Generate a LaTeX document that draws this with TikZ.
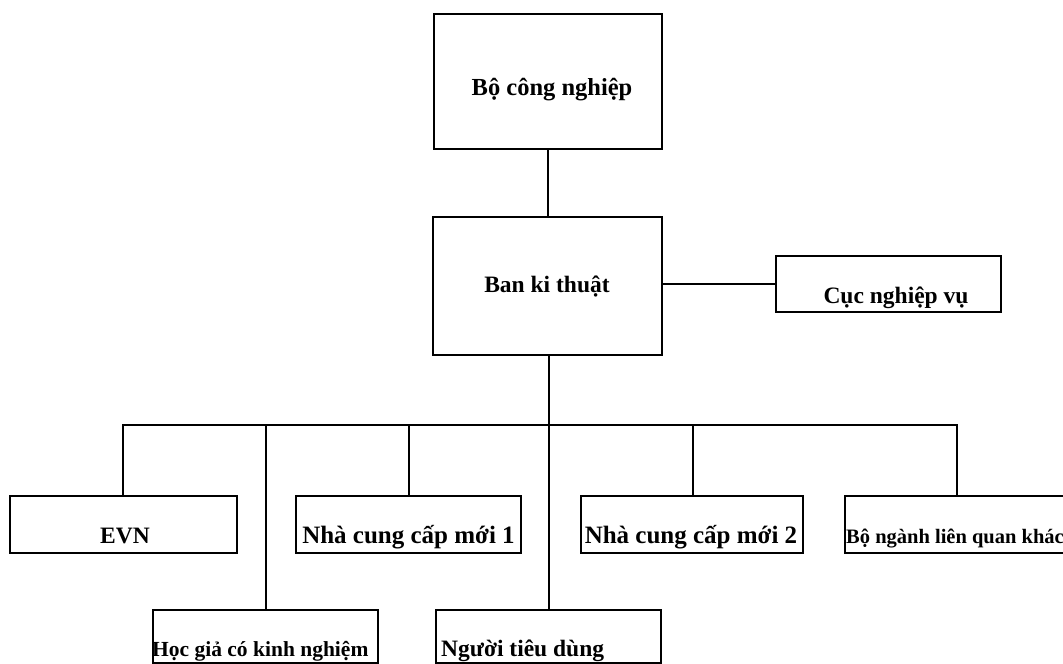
\documentclass[tikz,border=0pt]{standalone}
\usepackage{fontspec}
\setmainfont{Liberation Serif}
\begin{document}
\begin{tikzpicture}[x=1pt,y=-1pt,
  box/.style={draw, line width=2.6pt, inner sep=0pt, outer sep=0pt},
  conn/.style={line width=1.3pt},
  lbl/.style={font=\bfseries\fontsize{23.5}{28}\selectfont, inner sep=0pt, anchor=base},
  lblwide/.style={font=\bfseries\fontsize{25}{30}\selectfont, inner sep=0pt, anchor=base},
  lblsmall/.style={font=\bfseries\fontsize{21.5}{26}\selectfont, inner sep=0pt, anchor=base west},
  lbltiny/.style={font=\bfseries\fontsize{20.5}{24}\selectfont, inner sep=0pt, anchor=base west}]
\useasboundingbox (0,0) rectangle (1063,664);
% boxes
\node[box, minimum width=228pt, minimum height=135pt] (bcn) at (548,81.5) {};
\node[box, minimum width=229pt, minimum height=138pt] (ban) at (547.5,286) {};
\node[box, minimum width=225pt, minimum height=56pt] (cuc) at (888.5,284) {};
\node[box, minimum width=227pt, minimum height=57pt] (evn) at (123.5,524.5) {};
\node[box, minimum width=225pt, minimum height=57pt] (ncc1) at (408.5,524.5) {};
\node[box, minimum width=222pt, minimum height=57pt] (ncc2) at (692,524.5) {};
\node[box, minimum width=222pt, minimum height=57pt] (bnl) at (956,524.5) {};
\node[box, minimum width=225pt, minimum height=53pt] (hgk) at (265.5,636.5) {};
\node[box, minimum width=225pt, minimum height=53pt] (ntd) at (548.5,636.5) {};
% texts
\node[lbl, font=\bfseries\fontsize{24.5}{29}\selectfont] (tbcn) at (552,95) {Bộ công nghiệp};
\node[lbl] (tban) at (547,292) {Ban ki thuật};
\node[lbl] (tcuc) at (896,303) {Cục nghiệp vụ};
\node[lbl] (tevn) at (125,543) {EVN};
\node[lblwide] (tncc1) at (408.5,543) {Nhà cung cấp mới 1};
\node[lblwide] (tncc2) at (691,543) {Nhà cung cấp mới 2};
\node[lbltiny] (tbnl) at (846,543) {Bộ ngành liên quan khác};
\node[lblsmall] (thgk) at (152,656) {Học giả có kinh nghiệm};
\node[lbl, anchor=base west] (tntd) at (441,656) {Người tiêu dùng};
% bus coordinates
\coordinate (j1) at (123,425);
\coordinate (j2) at (266,425);
\coordinate (j3) at (409,425);
\coordinate (j4) at (549,425);
\coordinate (j5) at (693,425);
\coordinate (j6) at (957,425);
% connectors
\draw[conn] (bcn.south) -- (bcn.south |- ban.north);
\draw[conn] (ban.east |- cuc.west) -- (cuc.west);
\draw[conn] (j4 |- ban.south) -- (j4 |- ntd.north);
\draw[conn] (j1 |- evn.north) -- (j1) -- (j6) -- (j6 |- bnl.north);
\draw[conn] (j2) -- (j2 |- hgk.north);
\draw[conn] (j3) -- (j3 |- ncc1.north);
\draw[conn] (j5) -- (j5 |- ncc2.north);
\end{tikzpicture}
\end{document}
